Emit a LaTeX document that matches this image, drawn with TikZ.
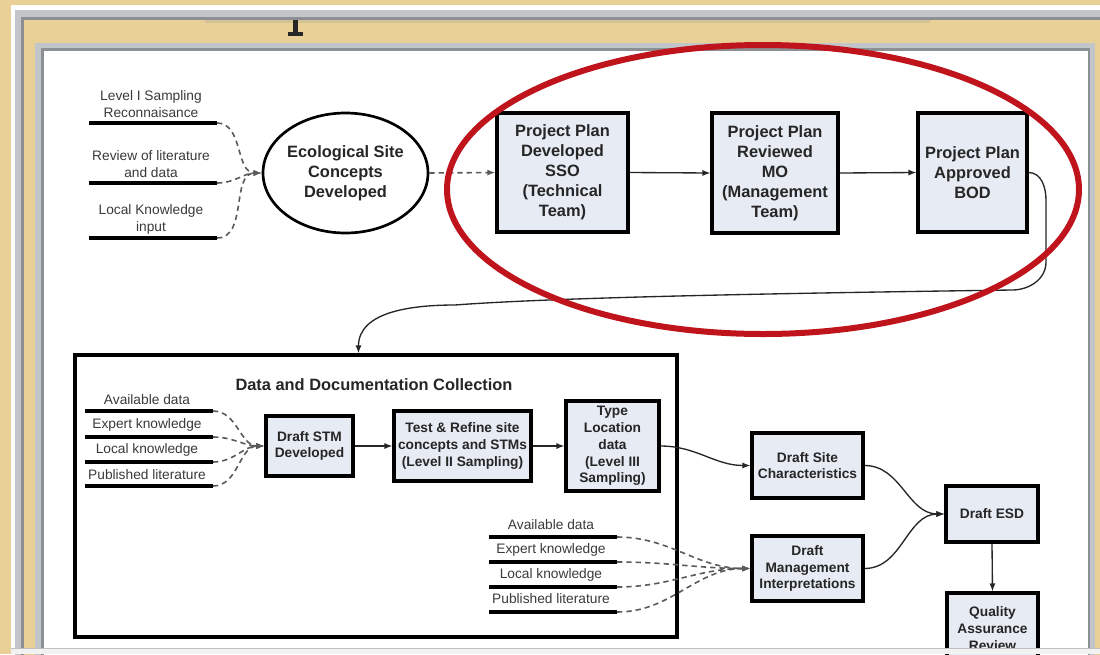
\documentclass[tikz,border=0pt]{standalone}
\usepackage{fontspec}
\setmainfont{Liberation Sans}
\usetikzlibrary{arrows.meta,shapes.geometric}
\definecolor{woodtan}{HTML}{E9D097}
\definecolor{framegray}{HTML}{C3C6C9}
\definecolor{framedark}{HTML}{8C8F93}
\definecolor{boxfill}{HTML}{E6EBF4}
\definecolor{ringred}{HTML}{C0141C}
\definecolor{inktext}{HTML}{262626}
\definecolor{labeltext}{HTML}{3A3A3A}
\definecolor{dashgray}{HTML}{5A5A5A}
\begin{document}
\begin{tikzpicture}[x=0.75pt,y=-0.75pt,
  bigbox/.style={draw=black, line width=2.3pt, fill=boxfill, align=center, text=inktext,
    font=\fontsize{12.3}{15}\selectfont\bfseries, inner sep=0pt},
  smallbox/.style={bigbox, font=\fontsize{10.3}{12.6}\selectfont\bfseries},
  ovalnode/.style={ellipse, draw=black, line width=2pt, fill=white, align=center, text=inktext,
    font=\fontsize{12.3}{15}\selectfont\bfseries, inner sep=0pt},
  lbl/.style={align=center, text=labeltext, font=\fontsize{10.3}{12.75}\selectfont, inner sep=0pt},
  inputline/.style={line width=2.3pt, black},
  conn/.style={line width=1pt, draw=black!85, -{Latex[length=6pt,width=4.5pt]}},
  dconn/.style={line width=1.2pt, draw=dashgray, dash pattern=on 4pt off 3pt, -{Latex[length=6pt,width=4.5pt]}}
]
\useasboundingbox (0,0) rectangle (1100,654);
\clip (0,0) rectangle (1100,654);
% background and frames
\fill[woodtan] (0,0) rectangle (1100,654);
\fill[white] (11,5) rectangle (1100,10);
\fill[white] (11,5) rectangle (15,654);
\fill[framegray] (15,10) rectangle (1110,670);
\fill[framedark] (21,17) rectangle (1110,670);
\fill[woodtan] (24,20) rectangle (1110,670);
\fill[framegray] (35,43) rectangle (1095,670);
\fill[framedark] (41,48) rectangle (1090,670);
\fill[white] (44,51) rectangle (1088,670);
% clipped title remnants
\fill[black!40, opacity=0.25] (205,20) rectangle (930,23);
\fill[black!85] (293,20) rectangle (298,33);
\fill[black!85] (288,32) rectangle (303,36);

% top-left inputs
\coordinate (ia1) at (89,123); \coordinate (ib1) at (217,123);
\coordinate (ia2) at (89,183); \coordinate (ib2) at (217,183);
\coordinate (ia3) at (89,238); \coordinate (ib3) at (217,238);
\draw[inputline] (ia1) -- (ib1);
\draw[inputline] (ia2) -- (ib2);
\draw[inputline] (ia3) -- (ib3);
\node[lbl] (la1) at (151,104.5) {Level I Sampling\\Reconnaisance};
\node[lbl] (la2) at (151,164.5) {Review of literature\\and data};
\node[lbl] (la3) at (151,219.5) {Local Knowledge\\input};

\node[ovalnode, minimum width=116.25pt, minimum height=90pt] (ell) at (345.5,173) {Ecological Site\\Concepts\\Developed};

\draw[dconn] (ib1) to[out=0,in=180] (ell.west);
\draw[dconn] (ib2) to[out=0,in=180] (ell.west);
\draw[dconn] (ib3) to[out=0,in=180] (ell.west);

% top row boxes
\node[bigbox, minimum width=98.25pt, minimum height=89.25pt] (b1) at (562.5,172.5) {Project Plan\\Developed\\SSO\\(Technical\\Team)};
\node[bigbox, minimum width=94.5pt, minimum height=90pt] (b2) at (775,173) {Project Plan\\Reviewed\\MO\\(Management\\Team)};
\node[bigbox, minimum width=81.75pt, minimum height=89.25pt] (b3) at (972.5,172.5) {Project Plan\\Approved\\BOD};

\draw[dconn] (ell.east) -- (b1.west);
\draw[conn] (b1.east) -- (b2.west);
\draw[conn] (b2.east) -- (b3.west);

% data collection container
\node[draw=black, line width=2.3pt, fill=white, minimum width=451.5pt, minimum height=211.5pt, inner sep=0pt] (dc) at (376,496) {};
\node[text=inktext, font=\fontsize{12.3}{15}\selectfont\bfseries, inner sep=0pt] (dct) at (374,385) {Data and Documentation Collection};

\draw[conn] (b3.east) to[out=0,in=90] (1046,200) -- (1046,262) to[out=-90,in=0] (1012,290)
  .. controls (800,293) and (560,297) .. (455,305) to[out=180,in=90] ([xshift=213.75pt]dc.north west);

% lower-left inputs
\coordinate (ja1) at (85,411); \coordinate (jb1) at (213,411);
\coordinate (ja2) at (85,437); \coordinate (jb2) at (213,437);
\coordinate (ja3) at (85,462); \coordinate (jb3) at (213,462);
\coordinate (ja4) at (85,486); \coordinate (jb4) at (213,486);
\draw[inputline] (ja1) -- (jb1);
\draw[inputline] (ja2) -- (jb2);
\draw[inputline] (ja3) -- (jb3);
\draw[inputline] (ja4) -- (jb4);
\node[lbl] (lb1) at (147,400) {Available data};
\node[lbl] (lb2) at (147,425) {Expert knowledge};
\node[lbl] (lb3) at (147,450) {Local knowledge};
\node[lbl] (lb4) at (147,475) {Published literature};

\node[smallbox, minimum width=65.25pt, minimum height=45pt] (stm) at (309.5,446) {Draft STM\\Developed};
\node[smallbox, minimum width=102.75pt, minimum height=52.5pt] (tr) at (462.5,446) {Test \& Refine site\\concepts and STMs\\(Level II Sampling)};
\node[smallbox, minimum width=69.75pt, minimum height=67.5pt] (tl) at (612.5,446) {Type\\Location\\data\\(Level III\\Sampling)};

\draw[dconn] (jb1) to[out=0,in=180] (stm.west);
\draw[dconn] (jb2) to[out=0,in=180] (stm.west);
\draw[dconn] (jb3) to[out=0,in=180] (stm.west);
\draw[dconn] (jb4) to[out=0,in=180] (stm.west);
\draw[conn] (stm.east) -- (tr.west);
\draw[conn] (tr.east) -- (tl.west);

% lower-right inputs
\coordinate (ka1) at (489,537); \coordinate (kb1) at (617,537);
\coordinate (ka2) at (489,562); \coordinate (kb2) at (617,562);
\coordinate (ka3) at (489,587); \coordinate (kb3) at (617,587);
\coordinate (ka4) at (489,612); \coordinate (kb4) at (617,612);
\draw[inputline] (ka1) -- (kb1);
\draw[inputline] (ka2) -- (kb2);
\draw[inputline] (ka3) -- (kb3);
\draw[inputline] (ka4) -- (kb4);
\node[lbl] (lc1) at (551,525) {Available data};
\node[lbl] (lc2) at (551,550) {Expert knowledge};
\node[lbl] (lc3) at (551,575) {Local knowledge};
\node[lbl] (lc4) at (551,599) {Published literature};

\node[smallbox, minimum width=83.25pt, minimum height=48.75pt] (dsc) at (807.5,465.5) {Draft Site\\Characteristics};
\node[smallbox, minimum width=83.25pt, minimum height=48.75pt] (dmi) at (807.5,568.5) {Draft\\Management\\Interpretations};
\node[smallbox, minimum width=69pt, minimum height=42pt] (esd) at (992,514) {Draft ESD};
\node[smallbox, minimum width=68.25pt, minimum height=53.25pt] (qa) at (992.5,628.5) {Quality\\Assurance\\Review};

\draw[dconn] (kb1) to[out=0,in=180] (dmi.west);
\draw[dconn] (kb2) to[out=0,in=180] (dmi.west);
\draw[dconn] (kb3) to[out=0,in=180] (dmi.west);
\draw[dconn] (kb4) to[out=0,in=180] (dmi.west);

\draw[conn] (tl.east) to[out=0,in=180] (dsc.west);
\draw[conn] (dsc.east) to[out=0,in=180] (esd.west);
\draw[conn] (dmi.east) to[out=0,in=180] (esd.west);
\draw[conn] (esd.south) -- (qa.north);

% bottom band
\fill[black!5] (11,648) rectangle (1100,654);
\draw[black!25, line width=0.5pt] (11,648) -- (1100,648);

% red highlight ring
\node[draw=ringred, line width=4.5pt, ellipse, minimum width=474pt, minimum height=216.75pt, inner sep=0pt] (ring) at (763,189.5) {};
\end{tikzpicture}
\end{document}
